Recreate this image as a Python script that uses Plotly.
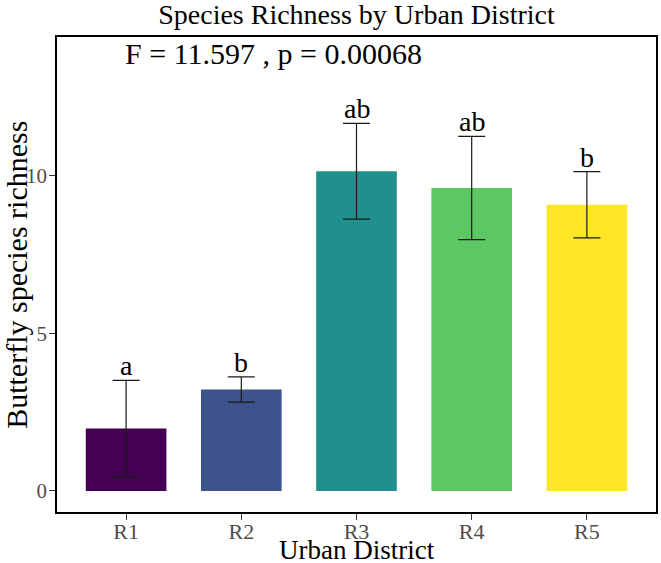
import plotly.graph_objects as go

districts = ['R1', 'R2', 'R3', 'R4', 'R5']
richness = [1.98, 3.22, 10.14, 9.61, 9.08]
err = [1.53, 0.40, 1.52, 1.64, 1.05]
letters = ['a', 'b', 'ab', 'ab', 'b']
colors = ['#440154', '#3B528B', '#21908C', '#5DC863', '#FDE725']

serif = 'Liberation Serif, Times New Roman, serif'

fig = go.Figure()
fig.add_trace(go.Bar(
    x=districts, y=richness, width=0.7,
    marker=dict(color=colors, line=dict(width=0)),
    error_y=dict(type='data', array=err, visible=True,
                 color='#1a1a1a', thickness=1.2, width=13.5),
    showlegend=False,
))

# significance letters above the error bars
for d, v, e, l in zip(districts, richness, err, letters):
    fig.add_annotation(x=d, y=v + e, text=l, showarrow=False,
                       yanchor='bottom', yshift=-3,
                       font=dict(family=serif, size=28, color='black'))

fig.add_annotation(x=(123 - 57) / 599, y=0.965, xref='paper', yref='paper',
                   xanchor='left', yanchor='middle',
                   text='F = 11.597 , p = 0.00068', showarrow=False,
                   font=dict(family=serif, size=30, color='black'))

# axis titles
fig.add_annotation(x=0.5, y=-0.079, xref='paper', yref='paper',
                   xanchor='center', yanchor='middle', showarrow=False,
                   text='Urban District',
                   font=dict(family=serif, size=27, color='black'))
fig.add_annotation(x=-0.067, y=0.499, xref='paper', yref='paper',
                   xanchor='center', yanchor='middle', showarrow=False,
                   textangle=-90, text='Butterfly species richness',
                   font=dict(family=serif, size=30, color='black'))

fig.update_layout(
    width=661, height=563,
    margin=dict(l=57, r=5, t=37, b=51, autoexpand=False),
    plot_bgcolor='white', paper_bgcolor='white',
    title=dict(text='Species Richness by Urban District', x=0.5, xanchor='center',
               xref='paper', y=0.993, yanchor='top',
               font=dict(family=serif, size=28, color='black')),
    font=dict(family=serif),
)
fig.update_xaxes(range=[-0.6, 4.6], showline=True, mirror=True, linecolor='black',
                 linewidth=1.5, ticks='outside', ticklen=6, tickcolor='#333333',
                 automargin=False, ticklabelstandoff=-7,
                 tickfont=dict(family=serif, size=22, color='#4d4d4d'))
fig.update_yaxes(range=[-0.667, 14.4], showline=True, mirror=True, linecolor='black',
                 linewidth=1.5, ticks='outside', ticklen=6, tickcolor='#333333',
                 tickvals=[0, 5, 10], showgrid=False, zeroline=False,
                 automargin=False, ticklabelstandoff=-2,
                 tickfont=dict(family=serif, size=21, color='#4d4d4d'))

fig.write_html('out.html', config={'displayModeBar': False},
               post_script="document.body.style.margin='0';")
